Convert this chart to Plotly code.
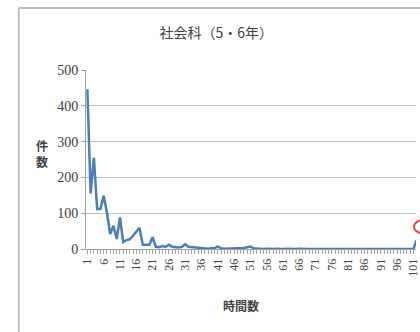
import plotly.graph_objects as go

# Hours (categories) and number of cases for 社会科 (grades 5-6)
hours = list(range(1, 103))
counts = [
    446, 155, 255, 112, 112, 149, 102, 42, 65, 28,
    88, 19, 25, 27, 37, 47, 59, 12, 12, 12,
    33, 6, 5, 8, 6, 12, 6, 5, 4, 6,
    13, 6, 5, 3, 2, 2, 1, 1, 2, 2,
    7, 2, 1, 1, 1, 1, 2, 1, 3, 5,
    7, 2, 1, 1, 0, 1, 0, 0, 1, 0,
    0, 1, 0, 0, 0, 1, 0, 0, 0, 0,
    1, 0, 0, 0, 0, 0, 1, 0, 0, 0,
    0, 0, 0, 1, 0, 0, 0, 0, 0, 0,
    0, 0, 0, 0, 0, 0, 0, 0, 0, 0,
    0, 25,
]
y_ticks = [0, 100, 200, 300, 400, 500]

title_text = "社会科（5・6年）"
y_title = "<b>件<br>数</b>"
x_title = "<b>時間数</b>"

jp_font = "Noto Sans CJK JP"
num_font = "Liberation Serif"
grey_txt = "#404040"

fig = go.Figure()
fig.add_trace(go.Scatter(
    x=hours, y=counts, mode="lines",
    line=dict(color="#4a7ebb", width=2.5),
    hoverinfo="skip", showlegend=False,
))

fig.update_layout(
    width=420, height=332,
    margin=dict(l=86, r=0, t=70, b=83),
    paper_bgcolor="white", plot_bgcolor="white",
    title=dict(text=title_text, xref="paper", x=0.395, xanchor="center",
               y=0.90, yanchor="middle",
               font=dict(family=jp_font, size=14, color=grey_txt)),
    xaxis=dict(
        range=[0.58, 101.8], tickmode="linear", tick0=1, dtick=5,
        tickangle=-90, ticks="outside", ticklen=4, tickcolor="#a0a0a0",
        ticklabeloverflow="allow",
        minor=dict(dtick=1, tick0=1, ticks="outside", ticklen=4,
                   tickcolor="#a0a0a0", showgrid=False),
        showline=True, linecolor="#a0a0a0", linewidth=1,
        showgrid=False, zeroline=False,
        tickfont=dict(family=num_font, size=12, color=grey_txt),
    ),
    yaxis=dict(
        range=[0, 500], tickvals=y_ticks,
        showline=True, linecolor="#a0a0a0", linewidth=1,
        ticks="outside", ticklen=4, tickcolor="#a0a0a0",
        showgrid=True, gridcolor="#c0c0c0", gridwidth=1,
        zeroline=False,
        tickfont=dict(family=num_font, size=14, color=grey_txt),
    ),
    annotations=[
        dict(text=y_title, xref="paper", yref="paper", x=-0.132, y=0.536,
             showarrow=False, xanchor="center", yanchor="middle",
             font=dict(family=jp_font, size=12, color=grey_txt)),
        dict(text=x_title, xref="paper", yref="paper", x=0.470, y=-0.313,
             showarrow=False, xanchor="center", yanchor="middle",
             font=dict(family=jp_font, size=12, color=grey_txt)),
    ],
    shapes=[
        # chart frame
        dict(type="line", xref="paper", yref="paper",
             x0=-0.2036, x1=-0.2036, y0=-0.6, y1=1.346,
             line=dict(color="#bdbdbd", width=2)),
        dict(type="line", xref="paper", yref="paper",
             x0=-0.2036, x1=1.2, y0=1.346, y1=1.346,
             line=dict(color="#bdbdbd", width=2)),
        # red highlight circle at the right edge
        dict(type="circle", xref="paper", yref="paper",
             x0=0.994, x1=1.06, y0=0.085, y1=0.165,
             line=dict(color="#e05050", width=2)),
    ],
)

fig.write_html("out.html")
